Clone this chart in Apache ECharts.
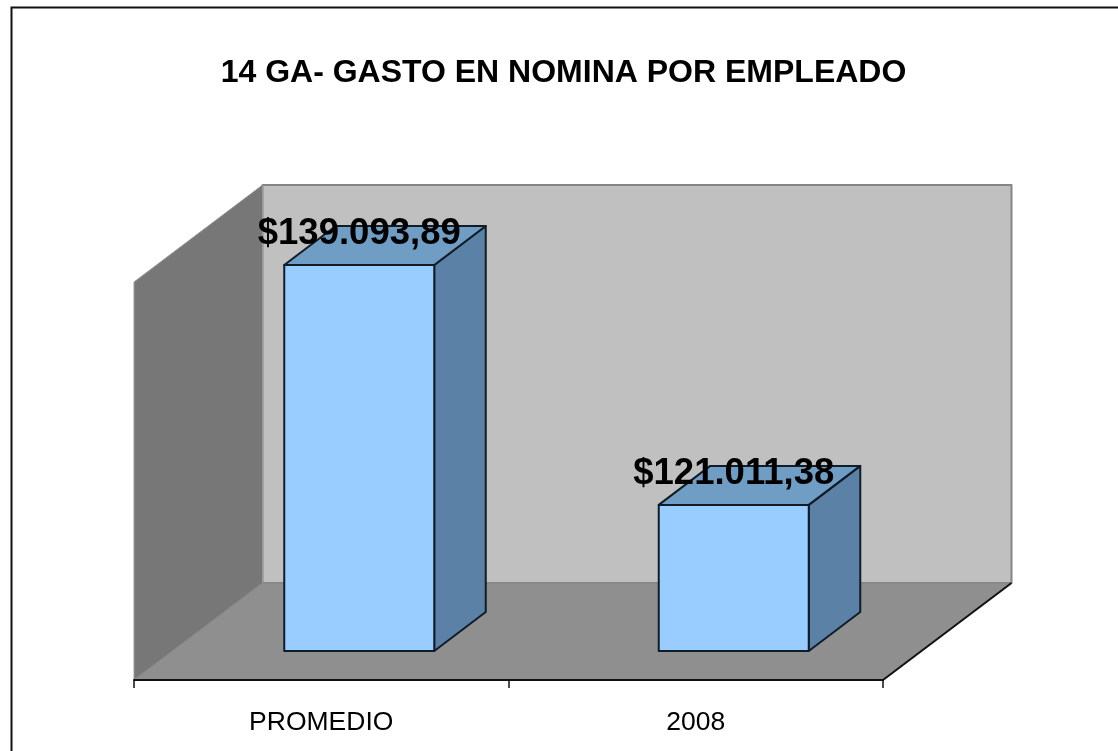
<!DOCTYPE html>
<html><head><meta charset="utf-8">
<style>html,body{margin:0;padding:0;background:#fff}#c{width:1118px;height:751px}</style>
<script src="https://cdn.jsdelivr.net/npm/echarts@6/dist/echarts.min.js"></script>
</head><body><div id="c"></div>
<script>
var categories = ['PROMEDIO', '2008'];
var values = [139093.89, 121011.38];
var titleText = '14 GA- GASTO EN NOMINA POR EMPLEADO';
var axisMin = 110000, axisMax = 140000;

var FONT = '"Liberation Sans", Arial, sans-serif';
var DEPTH = [128.5, -97];      // wall/floor depth vector
var BAR_NEAR = [38, -29];      // bar front face offset from the front plane
var BAR_DEPTH = [51.5, -39];   // bar depth vector
var BAR_WIDTH = 150;
var EDGE = '#101c28';

function fmt(v) {
  var p = v.toFixed(2).split('.');
  return '$' + p[0].replace(/\B(?=(\d{3})+$)/g, '.') + ',' + p[1];
}
function poly(pts, fill, stroke, lw) {
  return { type: 'polygon', shape: { points: pts },
    style: { fill: fill, stroke: stroke || null, lineWidth: lw || 0, lineJoin: 'round' } };
}
function walls(params, api) {
  var c = params.coordSys, L = c.x, R = c.x + c.width, T = c.y, B = c.y + c.height;
  var dx = DEPTH[0], dy = DEPTH[1];
  return { type: 'group', children: [
    poly([[L + dx, T + dy], [R + dx, T + dy], [R + dx, B + dy], [L + dx, B + dy]], '#C0C0C0', '#858585', 2),
    poly([[L, T], [L + dx, T + dy], [L + dx, B + dy], [L, B]], '#777777', '#9a9a9a', 1),
    poly([[L, B], [L + dx, B + dy], [R + dx, B + dy], [R, B]], '#8F8F8F', '#858585', 1),
    { type: 'line', shape: { x1: R, y1: B, x2: R + dx, y2: B + dy }, style: { stroke: '#111', lineWidth: 2 } }
  ] };
}
function bar3d(params, api) {
  var top = api.coord([api.value(0), api.value(1)]);
  var base = api.coord([api.value(0), axisMin]);
  var cx = top[0] + BAR_NEAR[0], x0 = cx - BAR_WIDTH / 2, x1 = cx + BAR_WIDTH / 2;
  var yT = top[1] + BAR_NEAR[1], yB = base[1] + BAR_NEAR[1];
  var dx = BAR_DEPTH[0], dy = BAR_DEPTH[1];
  return { type: 'group', children: [
    poly([[x1, yT], [x1 + dx, yT + dy], [x1 + dx, yB + dy], [x1, yB]], '#5B82A6', EDGE, 2),
    poly([[x0, yT], [x0 + dx, yT + dy], [x1 + dx, yT + dy], [x1, yT]], '#709DC4', EDGE, 2),
    poly([[x0, yT], [x1, yT], [x1, yB], [x0, yB]], '#99CCFF', EDGE, 2),
    { type: 'text', z2: 50, style: { x: cx, y: yT - 31, text: fmt(api.value(1)),
      align: 'center', verticalAlign: 'middle', fill: '#000',
      font: 'bold 36.5px ' + FONT } }
  ] };
}
var chart = echarts.init(document.getElementById('c'), null, { renderer: 'canvas' });
chart.setOption({
  animation: false,
  backgroundColor: '#fff',
  title: { text: titleText, left: 558.5, top: 52, textAlign: 'center',
    textStyle: { color: '#000', fontFamily: FONT, fontWeight: 'bold', fontSize: 32 } },
  grid: { left: 134, right: 235, top: 282, bottom: 71 },
  xAxis: { type: 'category', data: categories, z: 5,
    axisLine: { lineStyle: { color: '#111', width: 2 } },
    axisTick: { show: true, length: 8, alignWithLabel: false, lineStyle: { color: '#111', width: 1.5 } },
    axisLabel: { color: '#000', fontFamily: FONT, fontSize: 26.5, margin: 29 } },
  yAxis: { type: 'value', min: axisMin, max: axisMax, show: false, splitLine: { show: false } },
  graphic: [{ type: 'polyline', z: 100, silent: true,
    shape: { points: [[11.5, 751], [11.5, 7.5], [1118, 7.5]] },
    style: { fill: null, stroke: '#111', lineWidth: 2 } }],
  series: [
    { type: 'custom', z: 1, silent: true, renderItem: walls, data: [[0, axisMin]], encode: { x: 0, y: 1 } },
    { type: 'custom', z: 3, renderItem: bar3d,
      data: categories.map(function (c, i) { return [i, values[i]]; }), encode: { x: 0, y: 1 } }
  ]
});
</script></body></html>
